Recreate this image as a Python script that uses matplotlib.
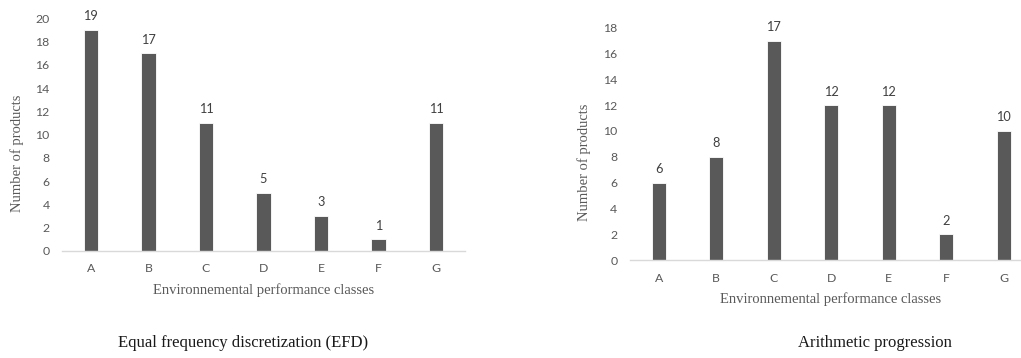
import matplotlib
matplotlib.use("Agg")
from matplotlib import pyplot as plt
import numpy as np

classes = ["A", "B", "C", "D", "E", "F", "G"]
efd_counts = [19, 17, 11, 5, 3, 1, 11]
arith_counts = [6, 8, 17, 12, 12, 2, 10]

bar_color = "#595959"
tick_color = "#595959"
label_color = "#595959"
sans = ["Lato", "DejaVu Sans"]
serif = ["Liberation Serif", "DejaVu Serif"]

fig = plt.figure(figsize=(10.21, 3.58), dpi=100)


def draw_panel(ax, counts, ymax, width):
    index = np.arange(len(classes))
    bars = ax.bar(index, counts, width, color=bar_color, edgecolor="white", linewidth=0.6)
    for rect, val in zip(bars, counts):
        ax.annotate(str(val), (rect.get_x() + rect.get_width() / 2, val),
                    xytext=(0, 5.5), textcoords="offset points", ha="center", va="bottom",
                    fontsize=9.2, color="#404040", family=sans)
    ax.set_ylim(0, ymax)
    ax.set_yticks(np.arange(0, ymax + 1, 2))
    ax.set_xticks(index)
    ax.set_xticklabels(classes)
    for side in ["top", "right", "left"]:
        ax.spines[side].set_visible(False)
    ax.spines["bottom"].set_color("#d9d9d9")
    ax.spines["bottom"].set_linewidth(1.0)
    ax.tick_params(length=0, labelsize=8.8, colors=tick_color, pad=9)
    for lab in ax.get_xticklabels() + ax.get_yticklabels():
        lab.set_family(sans)


# Equal frequency discretization
ax1 = fig.add_axes([0.0607, 0.2989, 0.3947, 0.65])
draw_panel(ax1, efd_counts, 20, 0.25)
ax1.set_xlim(-0.5, 6.5)

# Arithmetic progression
ax2 = fig.add_axes([0.617, 0.2737, 0.383, 0.6489])
draw_panel(ax2, arith_counts, 18, 0.24)
ax2.set_xlim(-0.5, 6.3)

# axis titles
fig.text(264 / 1021, 1 - 290 / 358, "Environnemental performance classes",
         ha="center", va="center", fontsize=10.5, color=label_color, family=serif)
fig.text(831 / 1021, 1 - 299 / 358, "Environnemental performance classes",
         ha="center", va="center", fontsize=10.5, color=label_color, family=serif)
fig.text(17 / 1021, 1 - 153 / 358, "Number of products", rotation=90,
         ha="center", va="center", fontsize=10.5, color=label_color, family=serif)
fig.text(584 / 1021, 1 - 162 / 358, "Number of products", rotation=90,
         ha="center", va="center", fontsize=10.5, color=label_color, family=serif)

# captions under each chart
fig.text(243 / 1021, 1 - 343 / 358, "Equal frequency discretization (EFD)",
         ha="center", va="center", fontsize=12, color="#1a1a1a", family=serif)
fig.text(875 / 1021, 1 - 343 / 358, "Arithmetic progression",
         ha="center", va="center", fontsize=12, color="#1a1a1a", family=serif)

fig.savefig("out.png", dpi=100, facecolor="white")
